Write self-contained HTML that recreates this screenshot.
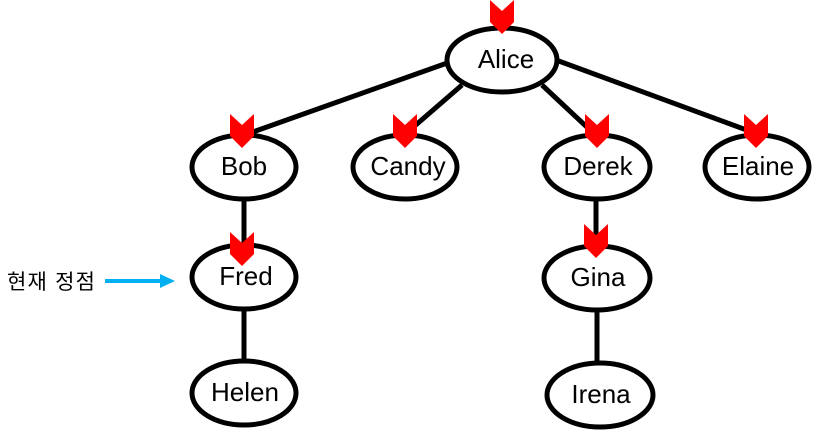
<!DOCTYPE html>
<html><head><meta charset="utf-8"><style>
html,body{margin:0;padding:0;background:#fff;width:818px;height:443px;overflow:hidden}
text{font-family:"Liberation Sans","Noto Sans CJK KR",sans-serif}
</style></head><body>
<svg width="818" height="443" xmlns="http://www.w3.org/2000/svg">
<g stroke="#000" stroke-width="5" fill="none">
<line x1="450" y1="62" x2="250" y2="133"/>
<line x1="462" y1="85" x2="410" y2="130"/>
<line x1="542" y1="85" x2="590" y2="130"/>
<line x1="556" y1="60" x2="752" y2="132"/>
<line x1="244" y1="199" x2="244" y2="246"/>
<line x1="244" y1="309" x2="244" y2="362"/>
<line x1="596" y1="199" x2="596" y2="247"/>
<line x1="597" y1="310" x2="597" y2="364"/>
</g>
<g stroke="#000" stroke-width="5" fill="#fff">
<ellipse cx="502" cy="60" rx="55" ry="32"/>
<ellipse cx="244" cy="167" rx="52" ry="32"/>
<ellipse cx="405" cy="167" rx="52" ry="32"/>
<ellipse cx="597" cy="167" rx="53" ry="32"/>
<ellipse cx="757" cy="167" rx="52" ry="32"/>
<ellipse cx="244" cy="277" rx="52" ry="32"/>
<ellipse cx="597" cy="278" rx="53" ry="32"/>
<ellipse cx="244" cy="393" rx="52" ry="32"/>
<ellipse cx="600" cy="395" rx="53" ry="32"/>
</g>
<g fill="#000" font-size="26" text-anchor="middle">
<text x="506" y="68">Alice</text>
<text x="244" y="175">Bob</text>
<text x="408" y="175">Candy</text>
<text x="598" y="175">Derek</text>
<text x="758" y="175">Elaine</text>
<text x="246" y="285">Fred</text>
<text x="598" y="286">Gina</text>
<text x="245" y="401">Helen</text>
<text x="601" y="403">Irena</text>
</g>
<g fill="#ff0000">
<polygon points="490,0 502,11 514,0 514,22 502,34 490,22"/>
<polygon points="230,114 242,125 254,114 254,136 242,148 230,136"/>
<polygon points="393,114 405,125 417,114 417,136 405,148 393,136"/>
<polygon points="585,114 597,125 609,114 609,136 597,148 585,136"/>
<polygon points="744,114 756,125 768,114 768,136 756,148 744,136"/>
<polygon points="230,232 242,243 254,232 254,254 242,266 230,254"/>
<polygon points="584,224 596,235 608,224 608,246 596,258 584,246"/>
</g>
<text x="7" y="289" font-size="21" fill="#000" textLength="88">현재 정점</text>
<line x1="105" y1="281" x2="162" y2="281" stroke="#00b0f0" stroke-width="4"/>
<polygon points="160,274 175,281 160,288" fill="#00b0f0"/>
</svg>
</body></html>
